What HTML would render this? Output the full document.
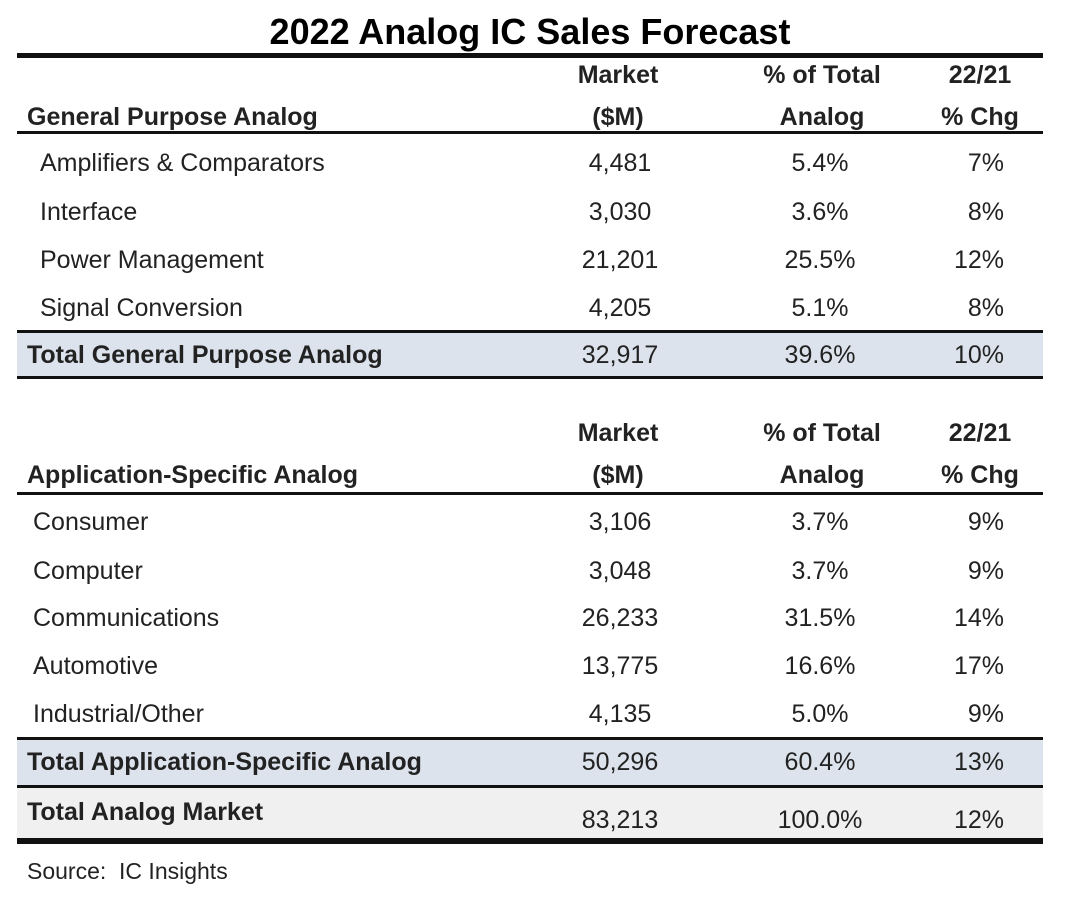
<!DOCTYPE html>
<html><head><meta charset="utf-8"><style>
body{margin:0;width:1084px;height:898px;background:#fff;position:relative;overflow:hidden;font-family:"Liberation Sans",sans-serif;color:#222}
.t{position:absolute;white-space:nowrap;font-size:25px;line-height:30px}
.b{font-weight:bold}
.c{transform:translateX(-50%)}
.r{transform:translateX(-100%)}
.ln{position:absolute;left:17px;width:1026px;background:#111}
.bg{position:absolute;left:17px;width:1026px}
</style></head><body>
<div class="t b c" style="left:530px;top:10px;font-size:36px;line-height:44px;color:#000">2022 Analog IC Sales Forecast</div>
<div class="ln" style="top:53px;height:5px"></div>

<div class="bg" style="top:333px;height:45px;background:#dce3ec"></div>
<div class="bg" style="top:740px;height:46px;background:#dce3ec"></div>
<div class="bg" style="top:788px;height:51px;background:#f0f0f0"></div>

<div class="ln" style="top:131px;height:3px"></div>
<div class="ln" style="top:330px;height:3px"></div>
<div class="ln" style="top:376px;height:3px"></div>
<div class="ln" style="top:492px;height:3px"></div>
<div class="ln" style="top:737px;height:3px"></div>
<div class="ln" style="top:785px;height:3px"></div>
<div class="ln" style="top:838px;height:6px"></div>

<div id="rows"></div>
<div class="t" style="left:27px;top:856px;font-size:23px">Source:&nbsp; IC Insights</div>

<script>
const sections = [
  {title:"General Purpose Analog", hy:[60,102], hdrY:102, rowsY:[148,197,245,293], totY:340},
  {title:"Application-Specific Analog", hy:[418,460], hdrY:460, rowsY:[507,556,603,651,699], totY:747}
];
const gpLabels=["Amplifiers & Comparators","Interface","Power Management","Signal Conversion"];
const gpMarket=["4,481","3,030","21,201","4,205"];
const gpShare=["5.4%","3.6%","25.5%","5.1%"];
const gpChg=["7%","8%","12%","8%"];
const gpTotal=["Total General Purpose Analog","32,917","39.6%","10%"];
const asLabels=["Consumer","Computer","Communications","Automotive","Industrial/Other"];
const asMarket=["3,106","3,048","26,233","13,775","4,135"];
const asShare=["3.7%","3.7%","31.5%","16.6%","5.0%"];
const asChg=["9%","9%","14%","17%","9%"];
const asTotal=["Total Application-Specific Analog","50,296","60.4%","13%"];
const grand=["Total Analog Market","83,213","100.0%","12%"];

const root=document.getElementById('rows');
function add(txt,x,y,cls,name){
  const d=document.createElement('div');
  d.className='t '+cls;
  d.style.left=x+'px';d.style.top=y+'px';
  d.textContent=txt;
  
  
  root.appendChild(d);
}
const data=[[gpLabels,gpMarket,gpShare,gpChg,gpTotal,40],[asLabels,asMarket,asShare,asChg,asTotal,33]];
sections.forEach((s,i)=>{
  const [L,M,S,C,T,lx]=data[i];
  add("Market",618,s.hy[0],'b c','header-market');
  add("($M)",618,s.hy[1],'b c','header-market-unit');
  add("% of Total",822,s.hy[0],'b c','header-share');
  add("Analog",822,s.hy[1],'b c','header-share-2');
  add("22/21",980,s.hy[0],'b c','header-change');
  add("% Chg",980,s.hy[1],'b c','header-change-2');
  add(s.title,27,s.hdrY,'b','section-title');
  L.forEach((l,j)=>{
    const y=s.rowsY[j];
    add(l,lx,y,'','row-label');
    add(M[j],620,y,'c','row-market');
    add(S[j],820,y,'c','row-share');
    add(C[j],1004,y,'r','row-change');
  });
  add(T[0],27,s.totY,'b','total-label');
  add(T[1],620,s.totY,'c','total-market');
  add(T[2],820,s.totY,'c','total-share');
  add(T[3],1004,s.totY,'r','total-change');
});
add(grand[0],27,797,'b','grand-total-label');
add(grand[1],620,805,'c','grand-total-market');
add(grand[2],820,805,'c','grand-total-share');
add(grand[3],1004,805,'r','grand-total-change');
</script>
</body></html>
